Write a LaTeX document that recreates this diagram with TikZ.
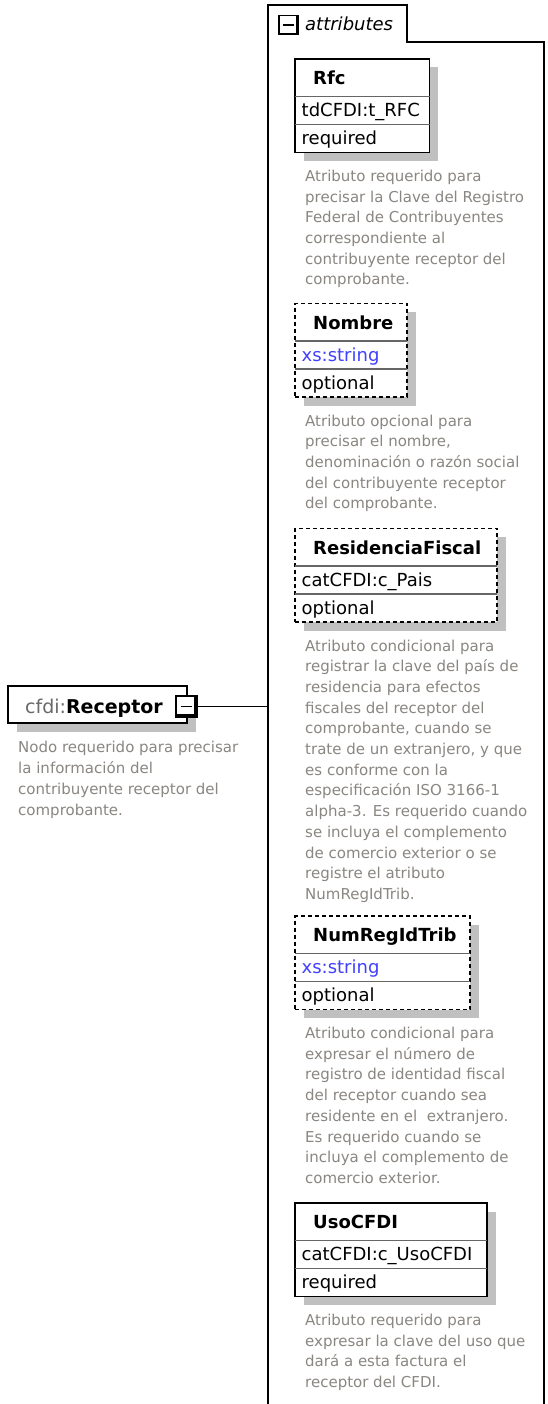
\documentclass[tikz,border=0pt]{standalone}
\usepackage{fontspec}
\setmainfont{DejaVu Sans}
\definecolor{descgray}{RGB}{138,134,130}
\definecolor{typeblue}{RGB}{64,64,255}
\definecolor{shadowgray}{RGB}{192,192,192}
\definecolor{nsgray}{RGB}{105,105,105}
\tikzset{
  reqbox/.style={draw=black, line width=1.8pt, fill=white, inner sep=0pt, outer sep=0pt},
  optbox/.style={draw=black, line width=1.8pt, dash pattern=on 4pt off 3pt, fill=white, inner sep=0pt, outer sep=0pt},
  divider/.style={draw=black!60, line width=1.3pt},
  hdr/.style={anchor=base west, inner sep=0pt, font=\fontsize{18}{20}\selectfont\bfseries},
  rowtxt/.style={anchor=base west, inner sep=0pt, font=\fontsize{18}{20}\selectfont},
  desc/.style={anchor=base west, inner sep=0pt, text=descgray, font=\fontsize{15}{20.7}\selectfont},
  toggle/.style={draw=black, line width=1.5pt, fill=white, inner sep=0pt, outer sep=0pt},
  container/.style={draw=black, line width=1.6pt},
  conn/.style={draw=black, line width=1.6pt},
}
\newcommand{\attrbox}[8]{%
  \fill[shadowgray] (303.5,#2+8.5) rectangle (#3+8.5,#2+102);
  \node[#4, anchor=north west, minimum width={#3pt-295pt}, minimum height=93.5pt] (#1) at (295,#2) {};
  \draw[divider] (295,#2+37.5) -- (#3,#2+37.5);
  \draw[divider] (295,#2+65.5) -- (#3,#2+65.5);
  \node[hdr] (#1-name) at (313,#2+25.5) {#5};
  \node[rowtxt] (#1-type) at (301.5,#2+57.5) {#6};
  \node[rowtxt] (#1-use) at (301.5,#2+85.5) {#7};
  \node[desc] (#1-desc) at (305,#2+122.5) {\parbox[t]{235pt}{\raggedright #8}};
}
\begin{document}
\begin{tikzpicture}[x=1pt,y=-1pt]
\useasboundingbox (0,0) rectangle (548,1404);
\fill[white] (0,0) rectangle (548,1404);

% attributes container
\draw[container] (268,1405) -- (268,5) -- (407,5) -- (407,42) -- (544,42) -- (544,1405);
\node[toggle, minimum size=19pt] (attrtoggle) at (288.5,25) {};
\draw[line width=2.2pt] ([xshift=-0.5pt]attrtoggle.north east) -- ([xshift=-0.5pt,yshift=0.5pt]attrtoggle.south east) -- ([yshift=0.5pt]attrtoggle.south west);
\draw[line width=1.6pt] ([xshift=4pt]attrtoggle.west) -- ([xshift=-4.5pt]attrtoggle.east);
\node[anchor=base west, inner sep=0pt, font=\fontsize{18}{20}\selectfont\itshape] (attrlabel) at (305,30.5) {attributes};
\coordinate (attrleft) at (268,706.5);

% receptor element
\fill[shadowgray] (17,695) rectangle (196,732);
\node[reqbox, anchor=north west, minimum width=179pt, minimum height=37pt] (receptor) at (8,686) {};
\node[anchor=base west, inner sep=0pt, font=\fontsize{19}{22}\selectfont] (receptorlabel) at (25,713.5) {\textcolor{nsgray}{cfdi:}\textbf{Receptor}};
\node[toggle, minimum size=21pt] (rectoggle) at (186.5,706.5) {};
\draw[line width=3.2pt] ([xshift=-1pt]rectoggle.north east) -- ([xshift=-1pt,yshift=1pt]rectoggle.south east) -- ([yshift=1pt]rectoggle.south west);
\draw[line width=1.6pt] ([xshift=5pt]rectoggle.west) -- ([xshift=-5pt]rectoggle.east);
\draw[conn] (rectoggle.east) -- (attrleft);
\node[desc, font=\fontsize{15}{21}\selectfont] (receptordesc) at (18,752.5) {\parbox[t]{240pt}{\raggedright Nodo requerido para precisar\\la información del\\contribuyente receptor del\\comprobante.}};

% attributes
\attrbox{rfc}{59}{429.5}{reqbox}{Rfc}{tdCFDI:t\_RFC}{required}{Atributo requerido para\\precisar la Clave del Registro\\Federal de Contribuyentes\\correspondiente al\\contribuyente receptor del\\comprobante.}
\attrbox{nombre}{303.5}{407}{optbox}{Nombre}{\textcolor{typeblue}{xs:string}}{optional}{Atributo opcional para\\precisar el nombre,\\denominación o razón social\\del contribuyente receptor\\del comprobante.}
\attrbox{resfis}{528.5}{497}{optbox}{ResidenciaFiscal}{catCFDI:c\_Pais}{optional}{Atributo condicional para\\registrar la clave del país de\\residencia para efectos\\fiscales del receptor del\\comprobante, cuando se\\trate de un extranjero, y que\\es conforme con la\\especificación ISO 3166-1\\alpha-3. Es requerido cuando\\se incluya el complemento\\de comercio exterior o se\\registre el atributo\\NumRegIdTrib.}
\attrbox{numreg}{916}{470}{optbox}{NumRegIdTrib}{\textcolor{typeblue}{xs:string}}{optional}{Atributo condicional para\\expresar el número de\\registro de identidad fiscal\\del receptor cuando sea\\residente en el\ \ extranjero.\\Es requerido cuando se\\incluya el complemento de\\comercio exterior.}
\attrbox{uso}{1203}{487}{reqbox}{UsoCFDI}{catCFDI:c\_UsoCFDI}{required}{Atributo requerido para\\expresar la clave del uso que\\dará a esta factura el\\receptor del CFDI.}
\end{tikzpicture}
\end{document}
